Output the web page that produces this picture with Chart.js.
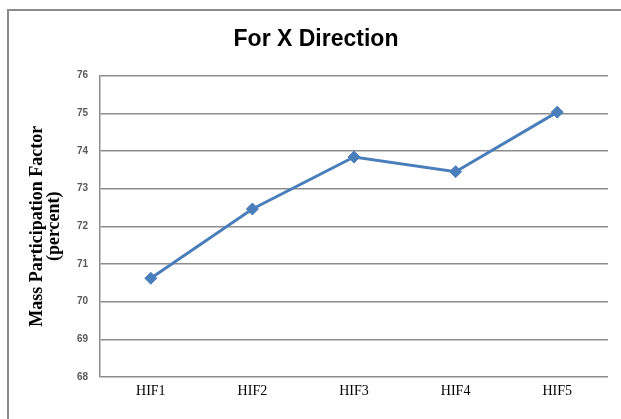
<!DOCTYPE html>
<html>
<head>
<meta charset="utf-8">
<script src="https://cdn.jsdelivr.net/npm/chart.js@4/dist/chart.umd.min.js"></script>
<style>
  html, body { margin: 0; padding: 0; background: #fff; }
  #wrap { position: relative; width: 621px; height: 419px; overflow: hidden; }
  #frame { position: absolute; left: 7px; top: 9px; width: 700px; height: 500px; border: 2px solid #8a8a8a; }
  #grafico { position: absolute; left: 0; top: 0; }
</style>
</head>
<body>
<div id="wrap">
  <div id="frame"></div>
  <canvas id="grafico" width="621" height="419"></canvas>
</div>
<script>
// dados
const categorias = ["HIF1", "HIF2", "HIF3", "HIF4", "HIF5"];
const valores = [70.62, 72.46, 73.84, 73.45, 75.03];
const ticksY = [68, 69, 70, 71, 72, 73, 74, 75, 76];

const corLinha = "#4a7ebb";
const corGrade = "#8c8c8c";

const ctx = document.getElementById("grafico").getContext("2d");

new Chart(ctx, {
  type: "line",
  data: {
    labels: categorias,
    datasets: [
      {
        label: "Mass Participation Factor",
        data: valores,
        borderColor: corLinha,
        backgroundColor: corLinha,
        borderWidth: 3,
        pointStyle: "rectRot",
        pointRadius: 6,
        pointBorderWidth: 1,
        tension: 0,
      },
    ],
  },
  options: {
    responsive: false,
    animation: false,
    // esquerda maior para o título ficar centrado como no original
    layout: { padding: { left: 24, right: 13, top: 0, bottom: 0 } },
    plugins: {
      legend: { display: false },
      tooltip: { enabled: false },
      title: {
        display: true,
        text: "For X Direction",
        color: "#000",
        font: { family: "'Liberation Sans', Arial, sans-serif", size: 23, weight: "bold", lineHeight: 1.2 },
        padding: { top: 26, bottom: 22 },
      },
    },
    scales: {
      x: {
        offset: true,
        grid: { display: false, drawTicks: false },
        border: { display: false },
        ticks: {
          color: "#000",
          padding: 6,
          font: { family: "'Liberation Serif', 'Times New Roman', serif", size: 14 },
        },
        afterFit: (scale) => { scale.height = 42; },
      },
      y: {
        min: ticksY[0],
        max: ticksY[ticksY.length - 1],
        afterBuildTicks: (scale) => { scale.ticks = ticksY.map((v) => ({ value: v })); },
        grid: { color: corGrade, lineWidth: 1.5, drawTicks: false },
        border: { display: true, color: corGrade, width: 1.5 },
        ticks: {
          color: "#595959",
          padding: 12,
          font: { family: "'Liberation Sans', Arial, sans-serif", size: 10, weight: "bold" },
        },
        title: {
          display: true,
          text: ["Mass Participation Factor", "(percent)"],
          color: "#000",
          font: { family: "'Liberation Serif', 'Times New Roman', serif", size: 18, weight: "bold", lineHeight: 0.95 },
          padding: { top: 5, bottom: 0 },
        },
        afterFit: (scale) => { scale.width = 76; },
      },
    },
  },
});
</script>
</body>
</html>
